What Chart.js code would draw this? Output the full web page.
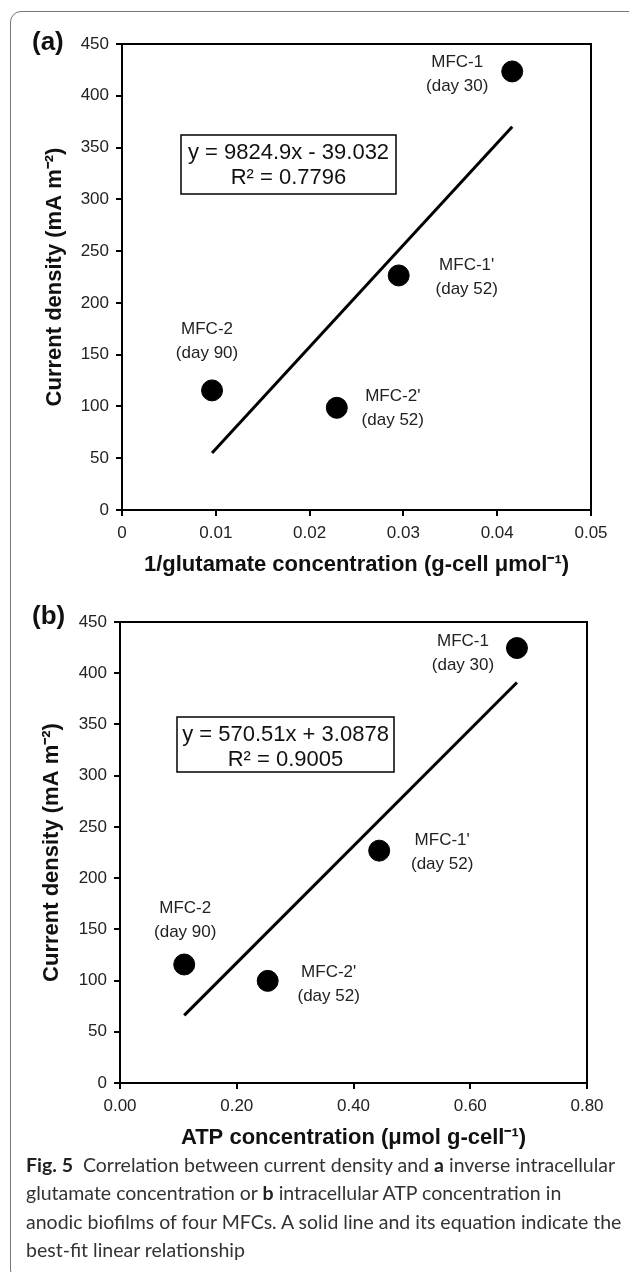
<!DOCTYPE html>
<html>
<head>
<meta charset="utf-8">
<script src="https://cdn.jsdelivr.net/npm/chart.js@4"></script>
<style>
  body { margin: 0; background: #fff; width: 629px; height: 1272px; position: relative; overflow: hidden; }
  #frame { position: absolute; left: 10px; top: 11px; width: 640px; height: 1270px; border: 1px solid #777; border-radius: 11px; box-sizing: border-box; }
  .panel { position: absolute; left: 0; width: 629px; }
  #caption { position: absolute; left: 26px; top: 1151px; width: 600px; font-family: Lato, "Open Sans", sans-serif; font-size: 19.5px; line-height: 28.3px; color: #333; white-space: nowrap; }
  #caption b { color: #222; }
</style>
</head>
<body>
<div id="frame"></div>
<div class="panel" style="top:0;height:600px"><canvas id="chartA"></canvas></div>
<div class="panel" style="top:575px;height:590px"><canvas id="chartB"></canvas></div>
<div id="caption"><b>Fig. 5</b>&nbsp; Correlation between current density and <b>a</b> inverse intracellular<br>glutamate concentration or <b>b</b> intracellular ATP concentration in<br>anodic biofilms of four MFCs. A solid line and its equation indicate the<br>best-fit linear relationship</div>
<script>
// point names
const names = ["MFC-1", "MFC-1'", "MFC-2", "MFC-2'"];
const days = ["(day 30)", "(day 52)", "(day 90)", "(day 52)"];

// panel (a)
const glutamateInv = [0.0416, 0.0295, 0.0096, 0.0229];
const currentA = [423.5, 226.5, 115.5, 98.7];
const fitAx = [0.0096, 0.0416];
const fitAy = [55, 370];
const xTicksA = ["0", "0.01", "0.02", "0.03", "0.04", "0.05"];
const eqA = ["y = 9824.9x - 39.032", "R\u00B2 = 0.7796"];

// panel (b)
const atp = [0.110, 0.444, 0.253, 0.680];
const currentB = [115.7, 226.8, 99.7, 424.6];
const namesB = ["MFC-2", "MFC-1'", "MFC-2'", "MFC-1"];
const daysB = ["(day 90)", "(day 52)", "(day 52)", "(day 30)"];
const fitBx = [0.110, 0.680];
const fitBy = [66, 391];
const xTicksB = ["0.00", "0.20", "0.40", "0.60", "0.80"];
const eqB = ["y = 570.51x + 3.0878", "R\u00B2 = 0.9005"];

const yTicks = ["0", "50", "100", "150", "200", "250", "300", "350", "400", "450"];

const FONT = "'Liberation Sans', Arial, sans-serif";

// label placement (pixel offset from each point: label center, first line)
const offsA = [[-55, -9], [68, -10], [-5, -61], [56, -11]];
const offsB = [[1, -56], [63, -10], [61, -9], [-54, -7]];

const decor = {
  id: 'decor',
  afterDraw(chart, args, o) {
    const ctx = chart.ctx, ca = chart.chartArea;
    ctx.save();
    // plot frame
    ctx.strokeStyle = '#000';
    ctx.lineWidth = 2;
    ctx.strokeRect(ca.left, ca.top, ca.right - ca.left, ca.bottom - ca.top);
    // point labels
    const meta = chart.getDatasetMeta(1);
    ctx.fillStyle = '#222';
    ctx.font = '17px ' + FONT;
    ctx.textAlign = 'center';
    ctx.textBaseline = 'middle';
    meta.data.forEach((pt, i) => {
      const [dx, dy] = o.offs[i];
      ctx.fillText(o.names[i], pt.x + dx, pt.y + dy);
      ctx.fillText(o.days[i], pt.x + dx, pt.y + dy + 24);
    });
    // equation box
    const b = o.box;
    ctx.fillStyle = '#fff';
    ctx.fillRect(b[0], b[1], b[2], b[3]);
    ctx.lineWidth = 1.5;
    ctx.strokeRect(b[0], b[1], b[2], b[3]);
    ctx.fillStyle = '#111';
    ctx.font = '22px ' + FONT;
    ctx.fillText(o.eq[0], b[0] + b[2] / 2, b[1] + 18);
    ctx.fillText(o.eq[1], b[0] + b[2] / 2, b[1] + 43);
    // panel letter
    ctx.font = 'bold 26px ' + FONT;
    ctx.textAlign = 'left';
    ctx.fillStyle = '#111';
    ctx.fillText(o.letter, o.letterPos[0], o.letterPos[1]);
    ctx.restore();
  }
};

function makeChart(id, xs, ys, fx, fy, xMax, xStep, xLabels, xTitle, pad, xH, xTitlePad, yTitlePad, deco) {
  return new Chart(document.getElementById(id), {
    type: 'scatter',
    data: {
      datasets: [
        {
          type: 'line',
          data: fx.map((x, i) => ({ x: x, y: fy[i] })),
          borderColor: '#000',
          borderWidth: 3,
          pointRadius: 0,
          fill: false
        },
        {
          data: xs.map((x, i) => ({ x: x, y: ys[i] })),
          backgroundColor: '#000',
          borderColor: '#000',
          pointRadius: 10.5,
          pointHoverRadius: 10.5
        }
      ]
    },
    options: {
      responsive: true,
      maintainAspectRatio: false,
      animation: false,
      events: [],
      layout: { padding: pad },
      plugins: { legend: { display: false }, tooltip: { enabled: false }, decor: deco },
      scales: {
        x: {
          type: 'linear',
          min: 0, max: xMax,
          afterFit(s) { s.height = xH; },
          border: { display: true, color: '#000', width: 2 },
          grid: { drawOnChartArea: false, color: '#000', lineWidth: 2, tickLength: 6 },
          ticks: {
            stepSize: xStep,
            padding: 7,
            color: '#222',
            font: { family: FONT, size: 17 },
            callback: (v, i) => xLabels[i]
          },
          title: {
            display: true,
            text: xTitle,
            color: '#111',
            font: { family: FONT, size: 22, weight: 'bold' },
            padding: { bottom: xTitlePad, top: 0 }
          }
        },
        y: {
          min: 0, max: 450,
          afterFit(s) { s.width = pad.yW; },
          border: { display: true, color: '#000', width: 2 },
          grid: { drawOnChartArea: false, color: '#000', lineWidth: 2, tickLength: 6 },
          ticks: {
            stepSize: 50,
            padding: 7,
            color: '#222',
            font: { family: FONT, size: 17 },
            callback: (v, i) => yTicks[i]
          },
          title: {
            display: true,
            text: 'Current density (mA m\u207B\u00B2)',
            color: '#111',
            font: { family: FONT, size: 22, weight: 'bold' },
            padding: { top: yTitlePad, bottom: 0 }
          }
        }
      }
    },
    plugins: [decor]
  });
}

makeChart('chartA', glutamateInv, currentA, fitAx, fitAy, 0.05, 0.01, xTicksA,
  '1/glutamate concentration (g-cell \u03BCmol\u207B\u00B9)',
  { left: 0, right: 38, top: 44, bottom: 0, yW: 122 }, 90, 22, 42,
  { offs: offsA, names: names, days: days, box: [181, 135, 215, 59], eq: eqA, letter: '(a)', letterPos: [32, 43] });

makeChart('chartB', atp, currentB, fitBx, fitBy, 0.8, 0.2, xTicksB,
  'ATP concentration (\u03BCmol g-cell\u207B\u00B9)',
  { left: 0, right: 42, top: 47, bottom: 0, yW: 120 }, 82, 14, 39,
  { offs: offsB, names: namesB, days: daysB, box: [177, 142, 217, 55], eq: eqB, letter: '(b)', letterPos: [32, 42] });
</script>
</body>
</html>
